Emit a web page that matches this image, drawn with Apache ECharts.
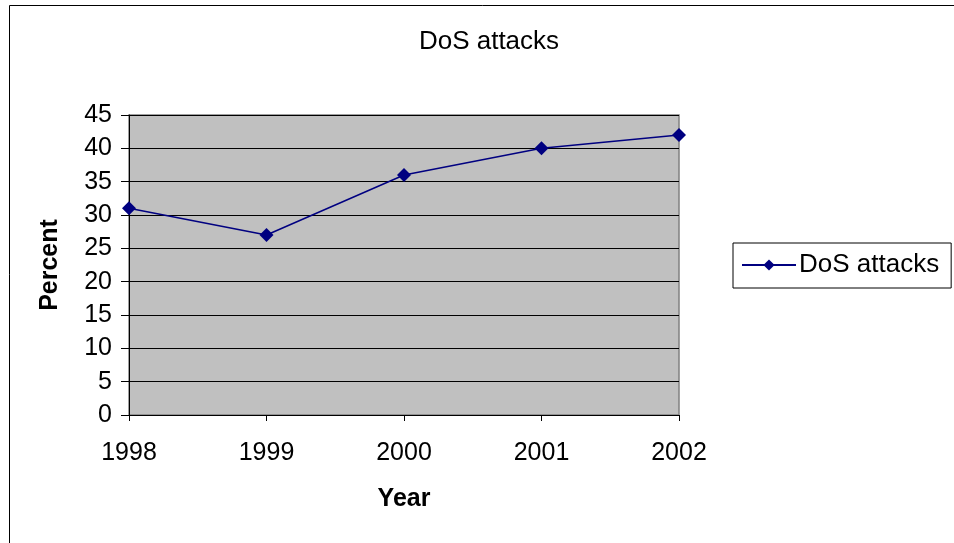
<!DOCTYPE html>
<html>
<head>
<meta charset="utf-8">
<script src="https://cdn.jsdelivr.net/npm/echarts@6/dist/echarts.min.js"></script>
<style>
  html, body { margin: 0; padding: 0; background: #fff; }
  #chart { width: 954px; height: 543px; }
</style>
</head>
<body>
<div id="chart"></div>
<script>
// Share of respondents reporting denial-of-service attacks, by year
const years = ['1998', '1999', '2000', '2001', '2002'];
const dosPercent = [31, 27, 36, 40, 42];
const seriesName = 'DoS attacks';

const FONT = '"Liberation Sans", Arial, sans-serif';

const chart = echarts.init(document.getElementById('chart'));
chart.setOption({
  animation: false,
  backgroundColor: '#fff',
  textStyle: { fontFamily: FONT, color: '#000' },
  graphic: [{
    type: 'rect',
    shape: { x: 9.5, y: 5.5, width: 1000, height: 1000 },
    style: { fill: 'none', stroke: '#000', lineWidth: 1 },
    silent: true,
    z: -1
  }],
  title: {
    text: seriesName,
    left: 484,
    top: 24,
    textAlign: 'center',
    textStyle: { fontFamily: FONT, fontSize: 26, fontWeight: 'normal', color: '#000' }
  },
  legend: {
    left: 733,
    top: 243,
    orient: 'vertical',
    padding: [9, 12, 10, 8],
    borderColor: '#000',
    borderWidth: 1,
    itemWidth: 54,
    itemHeight: 14,
    itemGap: 4,
    textStyle: { fontFamily: FONT, fontSize: 26, color: '#000', padding: [0, 0, 0, -2] },
    data: [seriesName]
  },
  grid: {
    left: 129,
    top: 115,
    width: 550,
    height: 300,
    show: true,
    backgroundColor: '#C0C0C0',
    borderColor: '#808080',
    borderWidth: 1.5
  },
  xAxis: {
    type: 'category',
    data: years,
    boundaryGap: false,
    name: 'Year',
    nameLocation: 'middle',
    nameGap: 72,
    nameTextStyle: { fontFamily: FONT, fontSize: 25, fontWeight: 'bold', color: '#000' },
    axisLine: { lineStyle: { color: '#000', width: 1 } },
    axisTick: { show: true, inside: false, length: 6, lineStyle: { color: '#000' } },
    axisLabel: { margin: 26, fontFamily: FONT, fontSize: 25, color: '#000' },
    splitLine: { show: false }
  },
  yAxis: {
    type: 'value',
    min: 0,
    max: 45,
    interval: 5,
    name: 'Percent',
    nameLocation: 'middle',
    nameGap: 66,
    nameRotate: 90,
    nameTextStyle: { fontFamily: FONT, fontSize: 25, fontWeight: 'bold', color: '#000' },
    axisLine: { show: true, lineStyle: { color: '#000', width: 1 } },
    axisTick: { show: true, inside: false, length: 8, lineStyle: { color: '#000' } },
    axisLabel: { margin: 17, fontFamily: FONT, fontSize: 25, color: '#000' },
    splitLine: { show: true, lineStyle: { color: '#000', width: 1 } }
  },
  series: [{
    name: seriesName,
    type: 'line',
    data: dosPercent,
    symbol: 'diamond',
    symbolSize: 14,
    showAllSymbol: true,
    lineStyle: { color: '#000080', width: 1.5 },
    itemStyle: { color: '#000080' },
    clip: false
  }]
});
</script>
</body>
</html>
